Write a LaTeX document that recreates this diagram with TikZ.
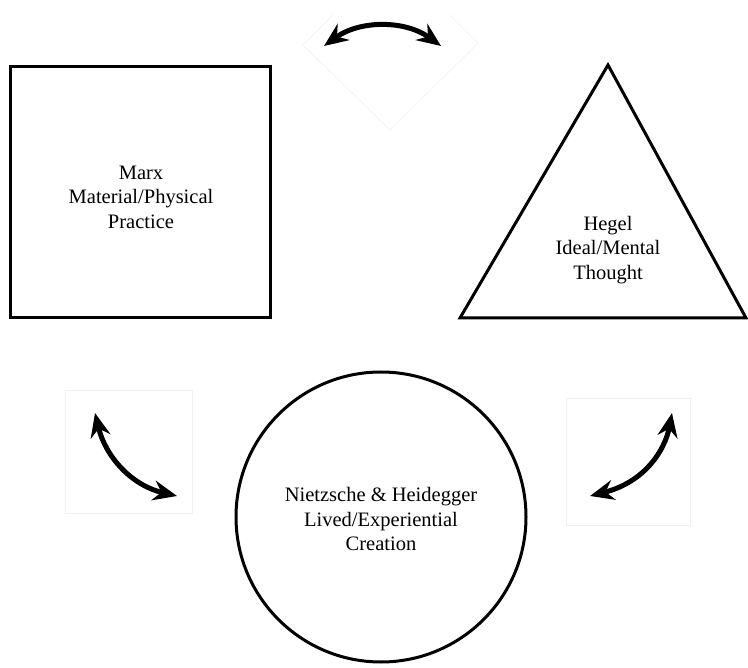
\documentclass[tikz,border=0pt]{standalone}
\usepackage{fontspec}
\setmainfont{Liberation Serif}
\usetikzlibrary{arrows.meta}
\begin{document}
\begin{tikzpicture}[x=1pt,y=-1pt,
  shapeline/.style={line width=3pt, draw=black},
  labeltext/.style={font=\fontsize{20.5}{24.5}\selectfont, align=center, inner sep=0pt},
  faint/.style={draw=black!6, line width=0.6pt},
  swing/.style={line width=5pt, {Stealth[length=24pt,width=20pt,inset=8pt]}-{Stealth[length=24pt,width=20pt,inset=8pt]}}]
\useasboundingbox (0,0) rectangle (748,668);
% faint frames around the arrows
\draw[faint] (333,15) -- (303,45) -- (390,130) -- (478,43) -- (450,15);
\draw[faint] (65,390) rectangle (192,513);
\draw[faint] (566,398) rectangle (690,525);
% main shapes
\draw[shapeline] (10,67) rectangle (270,318);
\draw[shapeline] (608,65) -- (746,318) -- (460,318) -- cycle;
\draw[shapeline] (381,517) circle[radius=145pt];
% labels
\node[labeltext] (marx) at (141,197) {Marx\\Material/Physical\\Practice};
\node[labeltext] (hegel) at (608,250) {Hegel\\Ideal/Mental\\Thought};
\node[labeltext] (nh) at (381,519) {Nietzsche \& Heidegger\\Lived/Experiential\\Creation};
% arrows
\coordinate (topL) at (324,46);
\coordinate (topR) at (441,46);
\draw[swing] (topL) .. controls (360,20) and (405,20) .. (topR);
\coordinate (leftT) at (95,413);
\coordinate (leftB) at (177,496);
\draw[swing] (leftT) .. controls (105,455) and (130,485) .. (leftB);
\coordinate (rightT) at (672,413);
\coordinate (rightB) at (590,496);
\draw[swing] (rightT) .. controls (665,450) and (645,482) .. (rightB);
\end{tikzpicture}
\end{document}
